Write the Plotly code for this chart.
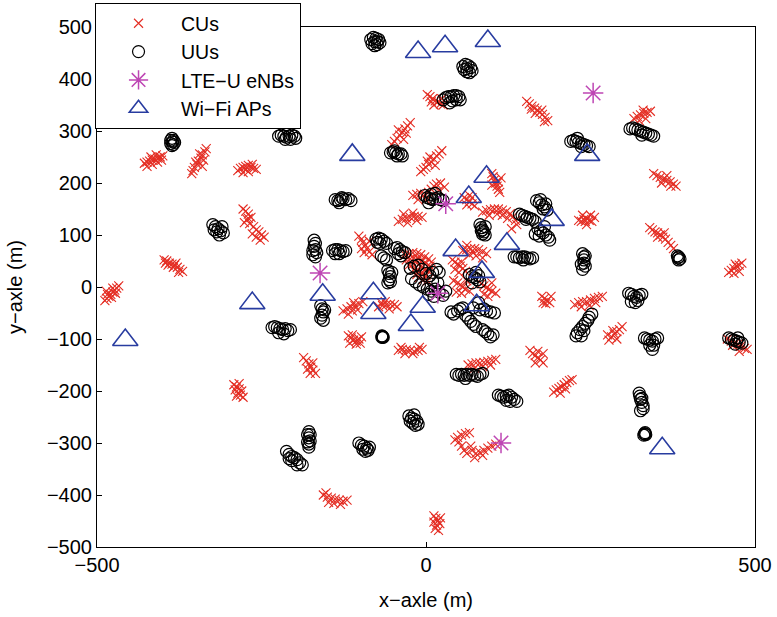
import plotly.graph_objects as go

# ---- data, metres ----
cu_points = [
    (-488,-26),(-485,-22),(-482,-18),(-479,-14),(-476,-10),(-473,-6),(-470,-2),(-467,2),(-484,-14),(-478,-20),(-472,-12),(-476,-2),(-486,-8),
    (-398,52),(-394,50),(-390,46),(-386,44),(-382,42),(-378,38),(-374,34),(-370,30),(-392,42),(-384,38),(-380,46),(-376,28),(-396,46),
    (-428,238),(-424,240),(-420,242),(-416,244),(-412,246),(-408,248),(-404,250),(-400,252),(-424,232),(-416,236),(-408,240),(-402,244),(-418,250),(-410,254),
    (-334,266),(-336,260),(-340,254),(-342,248),(-346,242),(-348,236),(-352,230),(-354,224),(-356,218),(-338,244),(-344,256),(-350,240),(-340,232),
    (-286,224),(-282,228),(-278,230),(-274,232),(-270,234),(-266,230),(-262,228),(-258,226),(-278,220),(-270,222),(-264,236),(-274,226),
    (-278,150),(-274,146),(-270,140),(-266,134),(-272,130),(-276,124),(-268,122),(-262,116),(-258,110),(-254,106),(-250,100),(-246,96),(-252,90),(-258,96),(-264,102),(-270,132),
    (-292,-188),(-288,-192),(-284,-196),(-280,-200),(-286,-204),(-282,-208),(-290,-198),(-278,-212),(-284,-186),(-288,-210),
    (-186,-136),(-182,-142),(-178,-148),(-175,-154),(-172,-160),(-168,-166),(-180,-158),(-172,-146),(-176,-166),
    (-156,-400),(-150,-404),(-144,-406),(-138,-408),(-132,-410),(-126,-412),(-120,-410),(-148,-414),(-140,-416),(-130,-418),(-152,-396),
    (-118,-94),(-114,-98),(-110,-102),(-106,-104),(-102,-100),(-98,-96),(-112,-92),(-106,-110),(-116,-108),(-100,-108),
    (-126,-46),(-120,-42),(-114,-38),(-108,-36),(-102,-32),(-96,-28),(-118,-52),(-110,-30),(-104,-44),(-112,-46),
    (-72,-38),(-66,-36),(-60,-34),(-54,-33),(-48,-34),(-44,-38),(-68,-30),(-56,-42),(-62,-28),
    (-42,-122),(-36,-120),(-30,-121),(-24,-122),(-18,-124),(-12,-122),(-6,-120),(-32,-128),(-20,-128),(-10,-116),(-38,-116),
    (12,-440),(15,-445),(18,-450),(21,-455),(16,-458),(14,-464),(22,-444),(19,-468),(12,-452),
    (44,-294),(48,-289),(54,-285),(60,-282),(66,-280),(50,-298),(54,-306),(58,-314),(62,-320),(70,-314),
    (76,-320),(82,-318),(88,-314),(94,-310),(100,-306),(106,-302),(74,-328),(68,-306),(86,-324),
    (176,-18),(180,-22),(184,-26),(188,-30),(182,-32),(190,-18),(178,-30),
    (226,-34),(232,-30),(238,-28),(244,-28),(250,-25),(256,-22),(262,-20),(268,-18),(236,-38),(248,-36),(258,-30),
    (278,-102),(282,-96),(286,-90),(290,-86),(294,-82),(298,-76),(276,-92),(290,-100),(284,-84),
    (158,-122),(162,-128),(166,-132),(170,-136),(174,-140),(178,-146),(166,-146),(178,-128),(170,-124),
    (194,-202),(198,-198),(202,-195),(206,-192),(210,-188),(214,-184),(218,-180),(222,-178),(204,-204),(212,-196),
    (64,-150),(70,-148),(76,-146),(82,-146),(88,-145),(94,-143),(100,-141),(106,-139),(74,-156),(86,-153),(98,-150),
    (458,-100),(464,-104),(470,-108),(474,-110),(478,-114),(484,-118),(488,-120),(476,-124),(466,-112),
    (153,357),(157,352),(161,348),(165,344),(169,340),(173,336),(177,332),(181,326),(185,320),(166,334),(160,342),(176,340),(180,318),
    (316,324),(321,328),(326,331),(331,334),(336,336),(341,338),(324,320),(334,324),(330,340),
    (346,218),(351,214),(356,211),(361,208),(366,205),(371,202),(376,198),(380,194),(358,200),(366,214),(372,194),
    (232,128),(236,126),(240,130),(244,132),(248,128),(252,126),(244,120),(250,138),(238,138),(242,126),(256,134),
    (340,114),(344,110),(348,106),(352,104),(356,100),(360,96),(364,92),(368,86),(372,80),(376,74),(352,96),(362,104),
    (460,28),(464,32),(468,36),(472,40),(476,42),(480,46),(468,26),(476,30),(470,44),
    (2,370),(6,366),(10,362),(14,358),(18,356),(22,352),(26,350),(12,350),(24,362),(8,356),
    (-8,222),(-4,226),(0,230),(4,236),(8,240),(12,246),(16,252),(20,256),(24,262),(6,250),(14,234),(2,242),
    (-20,176),(-14,178),(-8,180),(-2,178),(4,182),(8,188),(12,194),(16,198),(22,200),(28,192),(0,168),(-12,168),(20,186),
    (-42,126),(-36,130),(-30,132),(-24,134),(-18,136),(-12,136),(-6,134),(-28,124),(-20,142),(-34,140),(-14,128),
    (100,218),(102,212),(104,206),(106,200),(108,194),(110,188),(112,182),(114,210),(100,196),(110,202),
    (58,172),(62,168),(66,164),(70,160),(74,156),(62,158),(70,172),(66,176),
    (86,144),(92,147),(98,149),(104,150),(110,150),(116,148),(122,145),(128,141),(132,135),(136,128),(138,120),(124,132),(108,140),(130,112),(96,138),(116,138),
    (-102,98),(-98,92),(-96,86),(-92,80),(-90,74),(-86,68),(-82,62),(-98,74),(-86,88),(-94,66),
    (-32,62),(-26,64),(-20,66),(-14,64),(-8,62),(-2,58),(4,54),(8,48),(-30,52),(-24,54),(-18,56),(-12,54),(-6,50),(0,46),(6,40),
    (-26,42),(-20,44),(-14,46),(-8,40),(-2,34),(4,30),(-18,34),(-12,30),(-6,26),(0,22),(-10,18),(-4,14),(2,12),(-14,24),
    (56,70),(62,72),(68,74),(74,74),(80,72),(86,68),(92,64),(66,62),(76,60),(86,56),(62,80),(72,66),
    (40,52),(44,48),(48,44),(52,40),(56,36),(60,30),(44,34),(54,48),(50,28),
    (42,12),(48,8),(52,4),(56,0),(60,-4),(66,-8),(46,-10),(62,12),(54,-12),
    (84,6),(88,2),(92,-1),(96,-4),(100,-8),(106,-12),(88,-14),(100,8),(94,-18),
    (-52,274),(-48,280),(-44,286),(-40,292),(-36,298),(-32,304),(-28,310),(-24,316),(-42,302),(-34,284),(-30,296),
]

uu_points = [
    (-84,476),(-80,480),(-76,478),(-72,476),(-70,470),(-74,466),(-78,464),(-82,468),(-78,472),(-74,472),
    (56,424),(60,428),(64,426),(68,422),(70,416),(66,412),(62,414),(58,418),(62,420),
    (26,360),(30,364),(34,366),(38,366),(42,368),(46,368),(50,366),(52,360),(40,358),(36,354),(46,360),
    (-224,290),(-220,292),(-216,290),(-212,288),(-208,290),(-204,292),(-200,290),(-198,286),(-214,284),(-206,284),
    (-388,282),(-386,286),(-384,282),(-382,278),(-384,274),(-386,272),(-388,276),(-385,279),
    (-54,258),(-50,260),(-46,258),(-42,256),(-38,256),(-36,252),(-48,262),(-44,252),
    (-138,168),(-134,166),(-130,168),(-126,170),(-122,168),(-118,170),(-114,166),(-128,172),(-132,162),
    (-324,120),(-320,116),(-316,112),(-312,108),(-308,104),(-318,106),(-310,116),(-314,100),(-322,110),
    (-170,90),(-168,84),(-170,78),(-168,72),(-166,66),(-172,62),(-168,58),(-172,70),
    (-142,70),(-138,72),(-134,72),(-130,70),(-126,68),(-122,70),(-132,64),(-138,64),
    (-76,92),(-72,94),(-68,92),(-64,88),(-60,84),(-70,84),(-74,86),
    (-48,74),(-44,76),(-40,72),(-36,68),(-32,66),(-42,64),(-38,60),
    (-68,60),(-64,56),(-60,52),
    (-58,32),(-56,26),(-54,20),(-56,14),(-58,8),(-52,28),(-54,10),
    (-24,36),(-18,40),(-12,42),(-6,34),(0,26),(6,22),(10,28),(16,34),(20,28),(-22,16),(-16,10),(-10,4),
    (-4,0),(2,-4),(8,-8),(14,-4),(20,-10),(26,-16),(30,-8),(18,8),(10,12),(4,-14),(12,-18),
    (-2,176),(2,172),(6,170),(10,168),(14,170),(18,172),(22,168),(26,166),(4,162),(14,180),(8,178),
    (82,120),(84,114),(86,110),(88,106),(90,100),(86,102),(84,108),(90,116),
    (142,140),(146,138),(150,136),(154,134),(158,132),(162,130),(166,126),(152,130),
    (168,166),(172,162),(176,158),(180,154),(184,148),(178,150),(174,168),(182,160),
    (170,112),(174,108),(178,104),(182,100),(186,96),(188,90),(166,102),(180,116),(172,98),
    (134,58),(138,58),(142,56),(146,58),(150,58),(154,56),(158,54),(162,56),(148,52),
    (238,64),(240,58),(240,52),(240,46),(242,40),(236,44),(238,34),(242,60),
    (382,60),(384,58),(386,54),(384,52),(383,56),
    (220,280),(224,282),(228,280),(232,278),(236,276),(240,274),(244,272),(248,270),(230,286),(236,270),
    (310,304),(314,306),(318,304),(322,302),(326,300),(330,298),(334,296),(338,294),(342,292),(346,290),(328,292),
    (-67,-94),(-66,-96),(-65,-97),(-66,-95),(-67,-97),
    (46,-168),(50,-170),(54,-168),(58,-170),(62,-168),(66,-170),(70,-168),(74,-170),(78,-172),(82,-168),(86,-166),(60,-176),
    (110,-208),(114,-210),(118,-212),(122,-210),(126,-208),(130,-212),(134,-216),(138,-220),(122,-218),(128,-220),
    (-26,-248),(-22,-252),(-18,-254),(-14,-258),(-12,-264),(-20,-262),(-24,-258),(-18,-246),(-16,-266),
    (-102,-300),(-98,-304),(-94,-306),(-90,-310),(-88,-314),(-92,-316),(-96,-312),(-86,-308),
    (-178,-278),(-180,-284),(-178,-290),(-176,-296),(-178,-302),(-180,-298),(-176,-284),(-178,-308),
    (-212,-316),(-208,-322),(-204,-326),(-200,-328),(-196,-332),(-192,-338),(-188,-342),(-204,-334),(-196,-342),(-208,-330),
    (-234,-78),(-230,-76),(-226,-78),(-222,-80),(-218,-82),(-214,-80),(-210,-84),(-206,-82),(-224,-88),(-216,-90),
    (-160,-36),(-158,-42),(-156,-48),(-158,-54),(-160,-60),(-156,-64),(-154,-44),
    (308,-12),(312,-14),(316,-18),(320,-20),(324,-16),(328,-14),(312,-28),(318,-30),(322,-26),
    (252,-52),(248,-58),(246,-64),(242,-70),(238,-76),(234,-82),(230,-88),(228,-94),(240,-84),(236,-94),
    (332,-98),(336,-100),(340,-102),(344,-104),(348,-100),(352,-98),(340,-112),(344,-120),(346,-112),
    (324,-204),(325,-210),(326,-216),(328,-222),(330,-228),(330,-234),(326,-238),(328,-214),
    (332,-282),(334,-284),(333,-280),(331,-285),(333,-283),
    (460,-98),(464,-100),(468,-102),(472,-104),(476,-106),(480,-108),(470,-110),(474,-98),
    (38,-48),(42,-52),(48,-46),(52,-42),(56,-40),(60,-54),(64,-60),(68,-66),(72,-72),(76,-76),(82,-44),
    (88,-42),(92,-46),(98,-48),(104,-50),(86,-82),(90,-86),(94,-90),(98,-96),(102,-92),(80,-30),(72,-40),
    (66,24),(70,20),(74,18),(78,14),(82,10),(70,8),(76,28),(80,22),
]

enb_x = [254, 30, -161, 114, 18]
enb_y = [373, 160, 27, -300, -12]

ap_x = [-12, 29, 94, -112, 245, 92, 65, 191, 45, 123, 85, -157, -80, -80, -5, -23, -264, -457, 77, 359]
ap_y = [452, 463, 473, 254, 254, 212, 173, 129, 71, 83, 29, -15, -12, -50, -38, -73, -31, -102, -35, -310]

x_ticks = [-500, 0, 500]
y_ticks = [-500, -400, -300, -200, -100, 0, 100, 200, 300, 400, 500]

RED = "rgb(228,45,35)"
BLUE = "rgb(40,60,160)"
MAG = "rgb(190,70,180)"
FONT = "Liberation Sans, Arial, Helvetica, sans-serif"

fig = go.Figure()
fig.add_trace(go.Scatter(
    x=[p[0] for p in cu_points], y=[p[1] for p in cu_points], mode="markers", name="CUs",
    marker=dict(symbol="x-thin", size=9, color=RED, line=dict(color=RED, width=1.1))))
fig.add_trace(go.Scatter(
    x=[p[0] for p in uu_points], y=[p[1] for p in uu_points], mode="markers", name="UUs",
    marker=dict(symbol="circle-open", size=12, color="black", line=dict(color="black", width=1.2))))
fig.add_trace(go.Scatter(
    x=enb_x, y=enb_y, mode="markers", name="LTE−U eNBs",
    marker=dict(symbol="asterisk-open", size=17, color=MAG, line=dict(color=MAG, width=1.5))))
fig.add_trace(go.Scatter(
    x=ap_x, y=ap_y, mode="markers", name="Wi−Fi APs",
    marker=dict(symbol="triangle-up-open", size=22, color=BLUE, line=dict(color=BLUE, width=1.6))))

axis_common = dict(showgrid=False, zeroline=False, showline=True, mirror=True,
                   linecolor="black", linewidth=1, ticks="inside", ticklen=5,
                   tickcolor="black", tickfont=dict(family=FONT, size=20, color="black"))

fig.update_layout(
    width=777, height=617,
    margin=dict(l=97, r=22, t=27, b=70, autoexpand=False),
    paper_bgcolor="white", plot_bgcolor="white",
    font=dict(family=FONT, size=20, color="black"),
    showlegend=True,
    legend=dict(x=-0.003, y=1.046, xanchor="left", yanchor="top", itemwidth=75,
                bgcolor="white", bordercolor="black", borderwidth=1,
                font=dict(family=FONT, size=19.5, color="black")),
    xaxis=dict(range=[-500, 500], tickvals=x_ticks, automargin=False,
               title=dict(text="x−axle (m)", standoff=17, font=dict(size=20)),
               **axis_common),
    yaxis=dict(range=[-500, 500], tickvals=y_ticks, automargin=False,
               title=dict(text="y−axle (m)", standoff=18, font=dict(size=20)),
               **axis_common),
)

fig.write_html("out.html")
